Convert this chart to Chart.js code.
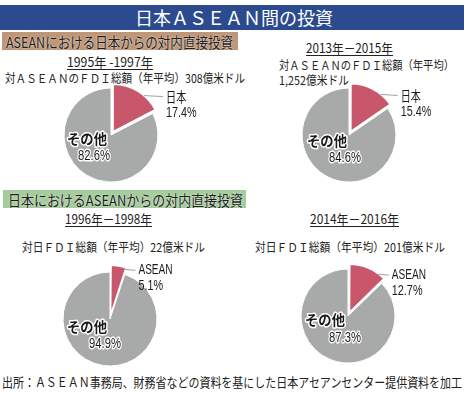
<!DOCTYPE html>
<html>
<head>
<meta charset="utf-8">
<script src="https://cdn.jsdelivr.net/npm/chart.js@4.4.0/dist/chart.umd.min.js"></script>
<style>
  html, body { margin: 0; padding: 0; background: #fff; }
  #page { position: relative; width: 464px; height: 393px; overflow: hidden;
          font-family: "Noto Sans CJK JP", "Noto Sans", sans-serif; color: #222; }
  .t { position: absolute; white-space: nowrap; transform-origin: 0 50%; }
  .box { position: absolute; }
  canvas { position: absolute; }
</style>
</head>
<body>
<div id="page"></div>
<script>
// データ
const mainTitle = "日本ＡＳＥＡＮ間の投資";
const sectionTitles = ["ASEANにおける日本からの対内直接投資", "日本におけるASEANからの対内直接投資"];
const periods = ["1995年 -1997年", "2013年－2015年", "1996年－1998年", "2014年－2016年"];
const totalLines = [
  ["対ＡＳＥＡＮのＦＤＩ総額（年平均）308億米ドル"],
  ["対ＡＳＥＡＮのＦＤＩ総額（年平均）", "1,252億米ドル"],
  ["対日ＦＤＩ総額（年平均）22億米ドル"],
  ["対日ＦＤＩ総額（年平均）201億米ドル"]
];
const partnerNames = ["日本", "日本", "ASEAN", "ASEAN"];
const partnerShare = [17.4, 15.4, 5.1, 12.7];
const otherName = "その他";
const otherShare = [82.6, 84.6, 94.9, 87.3];
const sourceNote = "出所：ＡＳＥＡＮ事務局、財務省などの資料を基にした日本アセアンセンター提供資料を加工";

// 配置
const RED = "#c8576c", GRAY = "#a8a9a9";
const pieCenters = [[111, 135], [349, 135], [110, 319], [348, 316]];
const leaderAt = [0.65, 0.7, 0.85, 0.8];
const leaderLen = [19, 17, 12, 11];
const innerPos = [[-24, 4, -17, 21], [-22, 6, -4, 23], [-23, 8, -5, 25], [-23, 4, -3, 22]];

const page = document.getElementById("page");

function addBox(x, y, w, h, color) {
  const el = document.createElement("div");
  el.className = "box";
  Object.assign(el.style, { left: x + "px", top: y + "px", width: w + "px", height: h + "px", background: color });
  page.appendChild(el);
}

// テキストを幅に合わせて横方向に縮める
function addText(txt, x, cy, w, size, extra) {
  const el = document.createElement("div");
  el.className = "t";
  el.textContent = txt;
  el.style.left = x + "px";
  el.style.top = (cy - size / 2) + "px";
  el.style.fontSize = size + "px";
  el.style.lineHeight = size + "px";
  Object.assign(el.style, extra || {});
  page.appendChild(el);
  const natural = el.getBoundingClientRect().width;
  el.style.transform = `scaleX(${w / natural})`;
  return el;
}

addBox(0, 5, 464, 25, "#2c4a8e");
addText(mainTitle, 135, 17, 198, 18, { color: "#fff" });

addBox(2, 32, 236, 18, "#bf9677");
addText(sectionTitles[0], 6, 41, 227, 15, { color: "#1e1e1e", textShadow: "0 0 2px #fff" });
addBox(3, 190, 243, 18, "#a5cc9c");
addText(sectionTitles[1], 8, 199, 235, 15, { color: "#1e1e1e", textShadow: "0 0 2px #fff" });

const ul = { textDecoration: "underline", textUnderlineOffset: "2px" };
addText(periods[0], 67, 61, 86, 13, ul);
addText(periods[1], 306, 47, 87, 13, ul);
addText(periods[2], 65, 218, 87, 13, ul);
addText(periods[3], 310, 218, 89, 13, ul);

addText(totalLines[0][0], 5, 78, 240, 12);
addText(totalLines[1][0], 279, 65, 175, 12);
addText(totalLines[1][1], 279, 80, 70, 12);
addText(totalLines[2][0], 22, 247, 183, 12);
addText(totalLines[3][0], 255, 247, 190, 12);

addText(sourceNote, 2, 381, 460, 13);

function drawText(ctx, txt, x, y, sx, font, align, halo) {
  ctx.save();
  ctx.translate(x, y);
  ctx.scale(sx, 1);
  ctx.font = font;
  ctx.textAlign = align;
  ctx.textBaseline = "middle";
  if (halo) {
    ctx.lineJoin = "round";
    ctx.strokeStyle = "#fff";
    ctx.lineWidth = 3;
    ctx.strokeText(txt, 0, 0);
  }
  ctx.fillStyle = "#1a1a1a";
  ctx.fillText(txt, 0, 0);
  ctx.restore();
}

function labelPlugin(i) {
  return {
    id: "pieLabels" + i,
    afterDraw(chart) {
      const ctx = chart.ctx;
      const arcs = chart.getDatasetMeta(0).data;
      const a = arcs[0].getProps(["x", "y", "startAngle", "endAngle", "outerRadius"], true);
      const half = (a.startAngle + a.endAngle) / 2;
      const off = 16 / 4;
      const ox = a.x + Math.cos(half) * off, oy = a.y + Math.sin(half) * off;
      const ang = a.startAngle + (a.endAngle - a.startAngle) * leaderAt[i];
      const sx = ox + Math.cos(ang) * (a.outerRadius + 0.5);
      const sy = oy + Math.sin(ang) * (a.outerRadius + 0.5);
      const ex = sx + leaderLen[i], ey = sy + 1;
      ctx.save();
      ctx.strokeStyle = "#8a8a8a";
      ctx.lineWidth = 0.8;
      ctx.beginPath();
      ctx.moveTo(sx, sy);
      ctx.lineTo(ex, ey);
      ctx.stroke();
      ctx.restore();

      const nameScale = partnerNames[i] === "ASEAN" ? 0.72 : 0.72;
      drawText(ctx, partnerNames[i], ex + 3, ey, nameScale,
        partnerNames[i] === "ASEAN" ? '14px "Liberation Sans", sans-serif' : '14px "Noto Sans CJK JP"', "left", false);
      drawText(ctx, partnerShare[i].toFixed(1) + "%", ex + 3, ey + 16, 0.72, '15px "Liberation Sans", sans-serif', "left", false);

      const p = innerPos[i];
      drawText(ctx, otherName, a.x + p[0], a.y + p[1], 0.95, 'bold 14px "Noto Sans CJK JP"', "center", true);
      drawText(ctx, otherShare[i].toFixed(1) + "%", a.x + p[2], a.y + p[3], 0.75, '15px "Liberation Sans", sans-serif', "center", true);
    }
  };
}

pieCenters.forEach((c, i) => {
  const cv = document.createElement("canvas");
  cv.width = 220; cv.height = 120;
  cv.style.width = "220px"; cv.style.height = "120px";
  cv.style.left = (c[0] - 110) + "px";
  cv.style.top = (c[1] - 60) + "px";
  page.appendChild(cv);
  new Chart(cv, {
    type: "pie",
    data: {
      labels: [partnerNames[i], otherName],
      datasets: [{
        data: [partnerShare[i], otherShare[i]],
        backgroundColor: [RED, GRAY],
        borderColor: "#fff",
        borderWidth: [1.5, 1],
        offset: [16, 0],
        radius: 47
      }]
    },
    options: {
      responsive: false,
      animation: false,
      events: [],
      plugins: { legend: { display: false }, tooltip: { enabled: false } }
    },
    plugins: [labelPlugin(i)]
  });
});
</script>
</body>
</html>
